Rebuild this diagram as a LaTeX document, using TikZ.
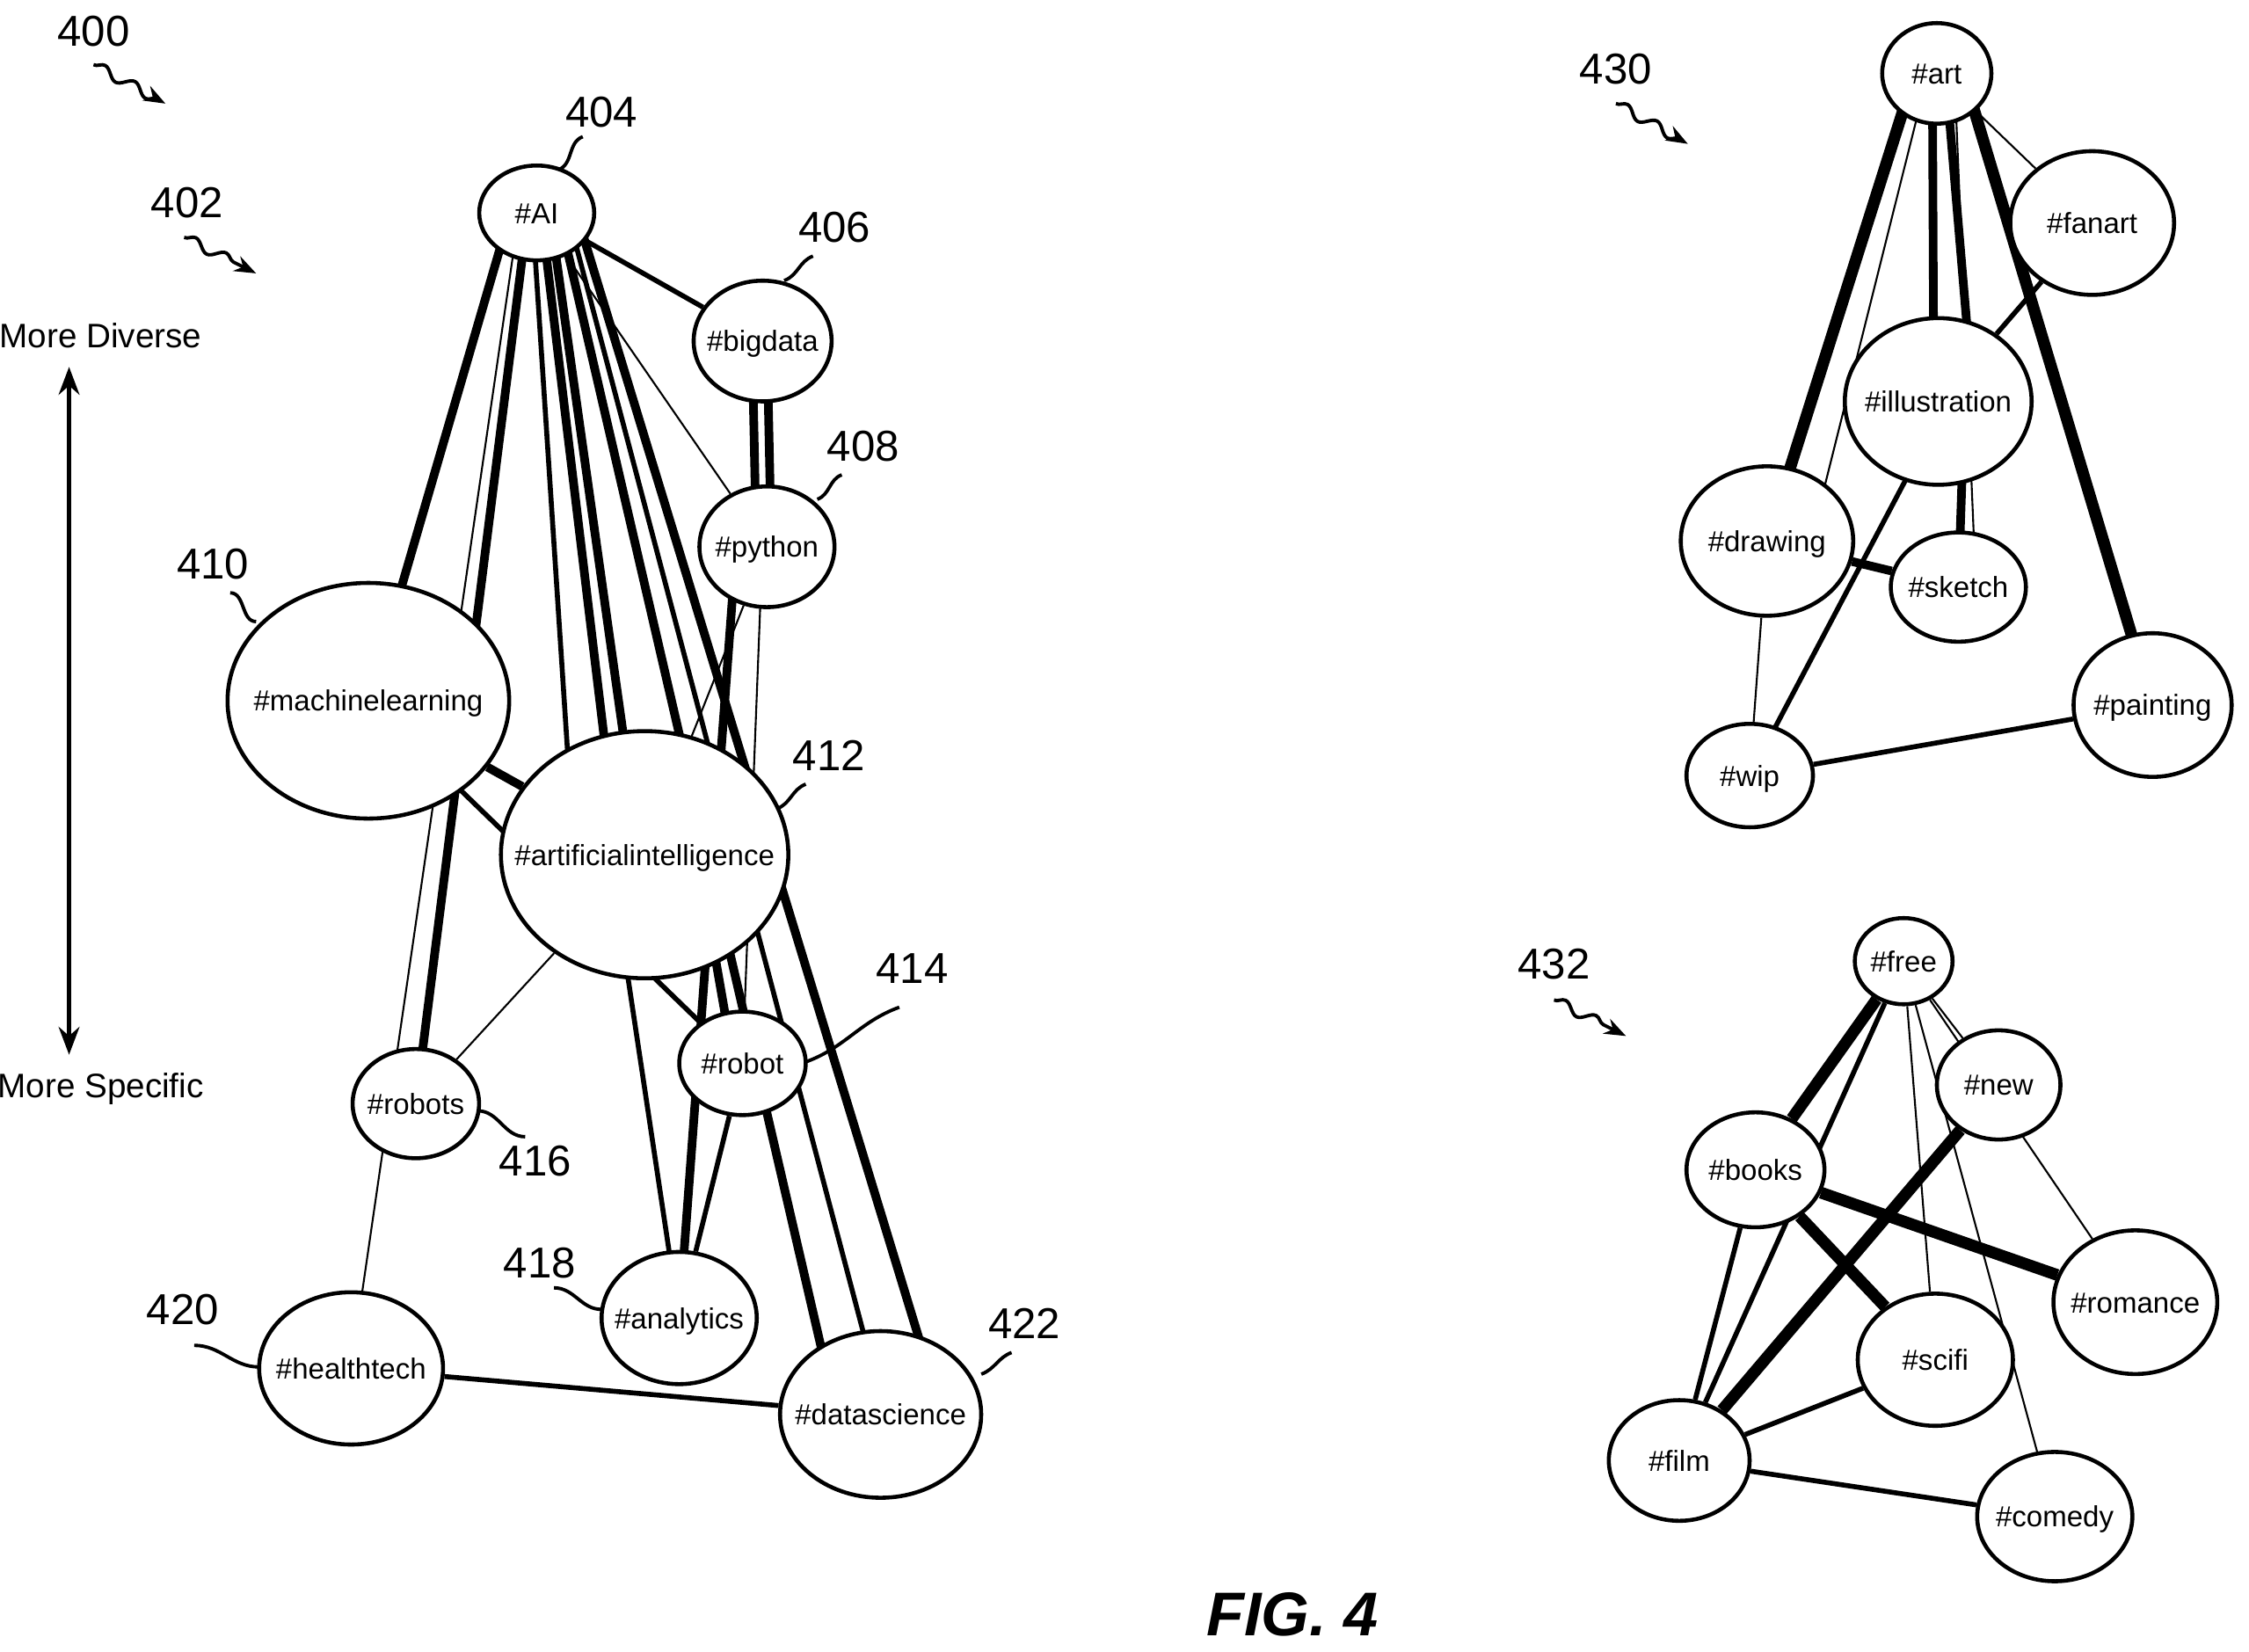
\documentclass[tikz,border=0pt]{standalone}
\usepackage{fontspec}
\setmainfont{Liberation Sans}
\usetikzlibrary{shapes.geometric,arrows.meta,backgrounds,decorations.pathmorphing}

\tikzset{
  tag/.style={draw, ellipse, fill=white, line width=1.3pt, inner sep=0pt, font=\fontsize{9.4}{11}\selectfont},
  lw1/.style={line width=0.6pt},
  lw2/.style={line width=1.6pt},
  lw3/.style={line width=2.8pt},
  lw4/.style={line width=3.8pt},
  ref/.style={font=\fontsize{14}{16}\selectfont},
  squig/.style={line width=1.1pt, decorate, decoration={snake, amplitude=1.6pt, segment length=11pt, post length=3pt}},
}
\newcommand{\tagnode}[5]{\node[tag, minimum width=#3*0.0327cm, minimum height=#4*0.0327cm] (#1) at (#2) {\makebox[0pt]{\smash{\raisebox{-0.36em}{#5}}}};}

\begin{document}
\begin{tikzpicture}[x=0.016367cm, y=-0.016367cm]
\useasboundingbox (0,0) rectangle (1563,1148);

% Left cluster
\tagnode{ai}{373,148}{40}{33}{\#AI}
\tagnode{bigdata}{530,237}{48}{42}{\#bigdata}
\tagnode{python}{533,380}{47}{42}{\#python}
\tagnode{ml}{256,487}{98}{82}{\#machinelearning}
\tagnode{aint}{448,594}{100}{86}{\#artificialintelligence}
\tagnode{robot}{516,739}{44}{36}{\#robot}
\tagnode{robots}{289,767}{44}{38}{\#robots}
\tagnode{analytics}{472,916}{54}{46}{\#analytics}
\tagnode{health}{244,951}{64}{53}{\#healthtech}
\tagnode{dsci}{612,983}{70}{58}{\#datascience}

% Right top cluster
\tagnode{art}{1346,51}{38}{35}{\#art}
\tagnode{fanart}{1454,155}{57}{50}{\#fanart}
\tagnode{illus}{1347,279}{65}{58}{\#illustration}
\tagnode{drawing}{1228,376}{60}{52}{\#drawing}
\tagnode{sketch}{1361,408}{47}{38}{\#sketch}
\tagnode{painting}{1496,490}{55}{50}{\#painting}
\tagnode{wip}{1216,539}{44}{36}{\#wip}

% Right bottom cluster
\tagnode{free}{1323,668}{34}{30}{\#free}
\tagnode{new}{1389,754}{43}{38}{\#new}
\tagnode{books}{1220,813}{48}{40}{\#books}
\tagnode{romance}{1484,905}{57}{50}{\#romance}
\tagnode{scifi}{1345,945}{54}{46}{\#scifi}
\tagnode{film}{1167,1015}{49}{42}{\#film}
\tagnode{comedy}{1428,1054}{54}{45}{\#comedy}

\begin{scope}[on background layer]
% Left edges
\draw[lw3] ([xshift=-0.3cm]ai.center) -- (ml.center);
\draw[lw1] ([xshift=-0.2cm]ai.center) -- (health.center);
\draw[lw3] ([xshift=-0.1cm]ai.center) -- (robots.center);
\draw[lw2] ([xshift=-0.05cm]ai.center) -- ([xshift=-0.8cm]aint.center);
\draw[lw3] ([xshift=0.05cm]ai.center) -- ([xshift=-0.3cm]aint.center);
\draw[lw3] ([xshift=0.15cm]ai.center) -- ([xshift=-0.05cm]aint.center);
\draw[lw3] ([xshift=0.25cm]ai.center) -- ([xshift=-0.5cm]dsci.center);
\draw[lw2] ([xshift=0.35cm]ai.center) -- ([xshift=0.05cm]dsci.center);
\draw[lw3] ([xshift=0.45cm]ai.center) -- ([xshift=0.7cm]dsci.center);
\draw[lw1] (ai) -- (python);
\draw[lw2] (ai) -- (bigdata);
\draw[lw3] ([xshift=-0.12cm]bigdata.center) -- ([xshift=-0.12cm]python.center);
\draw[lw3] ([xshift=0.05cm]bigdata.center) -- ([xshift=0.05cm]python.center);
\draw[lw1] (python) -- (aint);
\draw[lw3] ([xshift=-0.35cm]python.center) -- (analytics.center);
\draw[lw1] ([xshift=-0.05cm]python.center) -- (robot.center);
\draw[lw3] (ml) -- (aint);
\draw[lw2] (ml.center) -- (robot.center);
\draw[lw1] (aint) -- (robots);
\draw[lw2] ([xshift=-0.4cm]aint.center) -- (analytics.center);
\draw[lw3] ([xshift=0.6cm]aint.center) -- ([xshift=-0.1cm]robot.center);
\draw[lw2] (robot) -- (analytics);
\draw[lw2] (health) -- (dsci);
% Right top edges
\draw[lw1] (art) -- (fanart);
\draw[lw4] ([xshift=-0.25cm]art.center) -- (drawing.center);
\draw[lw1] ([xshift=-0.1cm]art.center) -- ([xshift=0.5cm]drawing.center);
\draw[lw3] ([xshift=-0.05cm]art.center) -- ([xshift=-0.05cm]illus.center);
\draw[lw3] ([xshift=0.1cm]art.center) -- ([xshift=0.4cm]illus.center);
\draw[lw1] ([xshift=0.2cm]art.center) -- ([xshift=0.2cm]sketch.center);
\draw[lw4] ([xshift=0.3cm]art.center) -- (painting.center);
\draw[lw2] (fanart) -- (illus);
\draw[lw3] ([xshift=0.3cm]illus.center) -- (sketch.center);
\draw[lw2] ([xshift=0.1cm]illus.center) -- (wip.center);
\draw[lw3] (drawing) -- (sketch);
\draw[lw1] (drawing) -- (wip);
\draw[lw2] (wip) -- (painting);
% Right bottom edges
\draw[lw4] (free) -- (books);
\draw[lw2] (free) -- (film);
\draw[lw1] (free) -- (scifi);
\draw[lw1] (free) -- (new);
\draw[lw1] (free) -- (romance);
\draw[lw1] (free) -- (comedy);
\draw[lw4] (new) -- (film);
\draw[lw4] (books) -- (romance);
\draw[lw4] (books) -- (scifi);
\draw[lw2] (books) -- (film);
\draw[lw2] (film) -- (scifi);
\draw[lw2] (film) -- (comedy);
\end{scope}

% Reference numerals
\node[ref] (n400) at (65,22) {400};
\node[ref] (n402) at (130,141) {402};
\node[ref] (n430) at (1123,48) {430};
\node[ref] (n432) at (1080,670) {432};
\node[ref] (n404) at (418,78) {404};
\node[ref] (n406) at (580,158) {406};
\node[ref] (n408) at (600,310) {408};
\node[ref] (n410) at (148,392) {410};
\node[ref] (n412) at (576,525) {412};
\node[ref] (n414) at (634,673) {414};
\node[ref] (n416) at (372,807) {416};
\node[ref] (n418) at (375,878) {418};
\node[ref] (n420) at (127,910) {420};
\node[ref] (n422) at (712,920) {422};

\draw[squig, -{Stealth[length=7pt]}] (65,45) -- (115,72);
\draw[squig, -{Stealth[length=7pt]}] (128,165) -- (178,190);
\draw[squig, -{Stealth[length=7pt]}] (1123,72) -- (1173,100);
\draw[squig, -{Stealth[length=7pt]}] (1080,695) -- (1130,720);

\draw[line width=1.1pt] (405,95) to[out=200,in=20] (388,118);
\draw[line width=1.1pt] (565,178) to[out=200,in=20] (545,195);
\draw[line width=1.1pt] (585,330) to[out=200,in=20] (568,347);
\draw[line width=1.1pt] (160,412) to[out=0,in=180] (178,432);
\draw[line width=1.1pt] (560,545) to[out=200,in=20] (540,562);
\draw[line width=1.1pt] (625,700) to[out=200,in=20] (560,738);
\draw[line width=1.1pt] (365,790) to[out=180,in=0] (332,772);
\draw[line width=1.1pt] (385,895) to[out=0,in=180] (418,910);
\draw[line width=1.1pt] (135,935) to[out=0,in=180] (180,950);
\draw[line width=1.1pt] (703,940) to[out=200,in=20] (682,955);

% Axis
\node[font=\fontsize{11}{13}\selectfont] (div) at (70,233) {More Diverse};
\node[font=\fontsize{11}{13}\selectfont] (spec) at (70,757) {More Specific};
\draw[line width=1.3pt, {Stealth[length=9pt]}-{Stealth[length=9pt]}] (48,255) -- (48,733);

\node[font=\fontsize{20}{24}\selectfont\bfseries\itshape] (fig) at (898,1122) {FIG. 4};
\end{tikzpicture}
\end{document}
